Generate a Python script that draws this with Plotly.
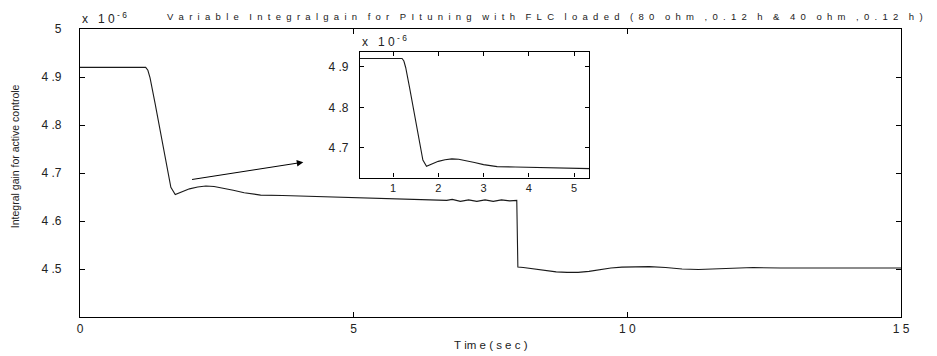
import plotly.graph_objects as go

NB = "\u00a0"

# Integral gain values, displayed in units of 1e-6
time_s = [0.0, 1.20, 1.24, 1.28, 1.37, 1.46, 1.55, 1.61, 1.66, 1.74, 1.85, 2.0, 2.15, 2.3, 2.45,
          2.6, 2.8, 3.0, 3.3, 3.7, 4.0, 4.4, 5.0, 5.5, 5.85, 6.3, 6.7, 6.8, 6.95, 7.1,
          7.25, 7.4, 7.55, 7.7, 7.85, 7.98, 8.0, 8.1, 8.3, 8.5, 8.7, 8.9, 9.1, 9.3,
          9.5, 9.7, 9.9, 10.1, 10.4, 10.7, 11.0, 11.3, 11.6, 11.9, 12.3, 12.8, 13.5, 14.2, 15.0]
gain = [4.920, 4.920, 4.914, 4.898, 4.846, 4.790, 4.738, 4.700, 4.670, 4.655, 4.660, 4.667, 4.671, 4.673, 4.672,
        4.669, 4.664, 4.659, 4.654, 4.653, 4.652, 4.651, 4.649, 4.647, 4.645, 4.644, 4.643, 4.645, 4.641, 4.644,
        4.641, 4.644, 4.641, 4.644, 4.642, 4.643, 4.504, 4.503, 4.500, 4.497, 4.494, 4.493, 4.493, 4.495,
        4.499, 4.502, 4.504, 4.505, 4.505, 4.503, 4.500, 4.499, 4.500, 4.501, 4.503, 4.502, 4.502, 4.502, 4.502]

main_xticks = [0, 5, 10, 15]
main_xtext = ["0", "5", "1" + NB + "0", "1" + NB + "5"]
main_yticks = [4.5, 4.6, 4.7, 4.8, 4.9, 5.0]
main_ytext = ["4" + NB + ".5", "4" + NB + ".6", "4" + NB + ".7", "4" + NB + ".8", "4" + NB + ".9", "5"]
inset_xticks = [1, 2, 3, 4, 5]
inset_xtext = ["1", "2", "3", "4", "5"]
inset_yticks = [4.7, 4.8, 4.9]
inset_ytext = ["4" + NB + ".7", "4" + NB + ".8", "4" + NB + ".9"]

FONT = "Liberation Sans, Arial, sans-serif"

def spaced(s):
    words = s.split(" ")
    return (NB * 4).join((NB + " ").join(list(w)) for w in words)

title_text = spaced("Variable Integralgain for PItuning with FLC loaded (80 ohm ,0.12 h & 40 ohm ,0.12 h)")
exp_text = "x" + NB * 3 + "1" + NB + "0<sup>" + NB + "-" + NB + "6</sup>"
xtitle_text = "T" + NB + "im" + NB + "e" + NB + "(" + NB + "s" + NB + "e" + NB + "c" + NB + ")"

fig = go.Figure()
fig.add_trace(go.Scatter(x=time_s, y=gain, mode="lines", line=dict(color="#1a1a1a", width=1.1),
                         xaxis="x", yaxis="y", showlegend=False, hoverinfo="skip"))
fig.add_trace(go.Scatter(x=time_s, y=gain, mode="lines", line=dict(color="#1a1a1a", width=1.1),
                         xaxis="x2", yaxis="y2", showlegend=False, hoverinfo="skip"))

axis_common = dict(showline=True, linecolor="black", mirror="ticks", ticks="inside",
                   tickcolor="black", showgrid=False, zeroline=False, automargin=False,
                   tickfont=dict(family=FONT, size=12, color="#222222"))

# the page body has an 8 px margin, so the figure is 8 px smaller than the window
fig.update_layout(
    width=929, height=348,
    margin=dict(l=72, r=36, t=21, b=39),
    paper_bgcolor="white", plot_bgcolor="white",
    xaxis=dict(domain=[0, 1], range=[0, 15], tickvals=main_xticks, ticktext=main_xtext,
               ticklen=5, linewidth=1.3, **axis_common),
    yaxis=dict(domain=[0, 1], range=[4.4, 5.0], tickvals=main_yticks, ticktext=main_ytext,
               ticklen=5, linewidth=1.3, ticklabelstandoff=15, **axis_common),
    xaxis2=dict(domain=[0.341, 0.620], range=[0.27, 5.33], anchor="y2",
                tickvals=inset_xticks, ticktext=inset_xtext, ticklen=4, linewidth=1.3,
                **{**axis_common, "tickfont": dict(family=FONT, size=11, color="#222222")}),
    yaxis2=dict(domain=[0.484, 0.920], range=[4.627, 4.936], anchor="x2",
                tickvals=inset_yticks, ticktext=inset_ytext, ticklen=4, linewidth=1.3,
                ticklabelstandoff=8,
                **{**axis_common, "tickfont": dict(family=FONT, size=12, color="#222222")}),
)

fig.add_shape(type="rect", xref="x2 domain", yref="y2 domain", x0=0, x1=1, y0=0, y1=1,
              fillcolor="white", line=dict(width=0), layer="below")

annotations = [
    dict(text=title_text, x=0.566, y=1.045, xref="paper", yref="paper", showarrow=False,
         xanchor="center", yanchor="middle", font=dict(family=FONT, size=9.5, color="#222222")),
    dict(text=exp_text, x=0, y=1.0, xref="paper", yref="paper",
         showarrow=False, xanchor="left", yanchor="bottom", yshift=1,
         font=dict(family=FONT, size=12, color="#222222")),
    dict(text=exp_text, x=0, y=1.0, xref="x2 domain", yref="y2 domain",
         showarrow=False, xanchor="left", yanchor="bottom", yshift=1,
         font=dict(family=FONT, size=12, color="#222222")),
    dict(text="Integral gain for active controle", x=-0.079, y=0.559, xref="paper", yref="paper",
         showarrow=False, textangle=-90, xanchor="center", yanchor="middle",
         font=dict(family=FONT, size=10.5, color="#222222")),
    dict(text=xtitle_text, x=0.5, y=-0.097, xref="paper", yref="paper",
         showarrow=False, xanchor="center", yanchor="middle",
         font=dict(family=FONT, size=11.5, color="#222222")),
    dict(x=4.08, y=4.7225, ax=2.02, ay=4.686, xref="x", yref="y", axref="x", ayref="y",
         text="", showarrow=True, arrowhead=2, arrowsize=1.3, arrowwidth=1, arrowcolor="black"),
]
fig.update_layout(annotations=annotations)

fig.write_html("out.html")
